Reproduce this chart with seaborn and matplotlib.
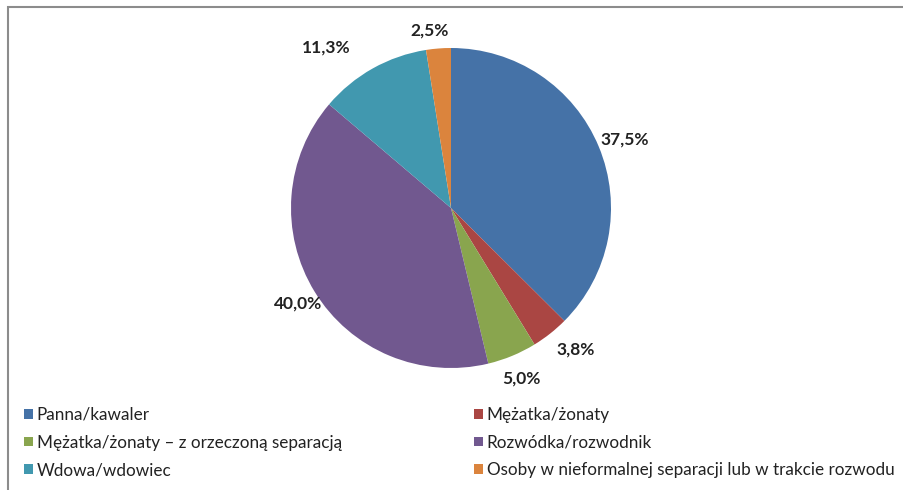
import matplotlib
matplotlib.use("Agg")
import matplotlib.pyplot as plt
from matplotlib.patches import Rectangle, Patch
import numpy as np
import seaborn as sns

sns.set_theme(style="white")
plt.rcParams['font.family'] = ['Lato', 'DejaVu Sans']

# data
categories = ["Panna/kawaler", "Mężatka/żonaty",
              "Mężatka/żonaty – z orzeczoną separacją", "Rozwódka/rozwodnik",
              "Wdowa/wdowiec", "Osoby w nieformalnej separacji lub w trakcie rozwodu"]
values = [37.5, 3.8, 5.0, 40.0, 11.3, 2.5]
colors = ["#4572A7", "#AA4643", "#89A54E", "#71588F", "#4198AF", "#DB843D"]
pct_labels = [f"{v:.1f}%".replace(".", ",") for v in values]
# label placement tweaks (best-fit positions as in the original)
label_dist = [1.17, 1.18, 1.15, 1.13, 1.27, 1.12]
label_turn = [-1.0, 3.0, 0.0, 0.5, 8.6, 2.3]

W, H = 904, 490
fig = plt.figure(figsize=(W / 100, H / 100), dpi=100)

# pie: centre (451,208) px, radius 160 px
cx, cy, r = 451, 208, 160
ax = fig.add_axes([(cx - r) / W, (H - cy - r) / H, 2 * r / W, 2 * r / H])
wedges, texts = ax.pie(values, colors=colors, startangle=90, counterclock=False,
                       labels=pct_labels, labeldistance=1.16,
                       wedgeprops=dict(linewidth=0))
for w, t, d, a in zip(wedges, texts, label_dist, label_turn):
    ang = np.deg2rad((w.theta1 + w.theta2) / 2 + a)
    t.set_position((d * np.cos(ang), d * np.sin(ang)))
    t.set_ha("center")
    t.set_va("center")
    t.set_fontweight("bold")
    t.set_fontsize(12.5)
    t.set_color("#222222")
ax.set_xlim(-1, 1)
ax.set_ylim(-1, 1)
ax.set_aspect("equal")
ax.axis("off")

# chart frame (cut off at right and bottom)
fig.add_artist(Rectangle((8 / W, -0.2), 2, 1.2 - 7 / H, transform=fig.transFigure,
                         fill=False, edgecolor="#8c8c8c", linewidth=1.5))

# legend, two columns filled row by row
handles = [Patch(facecolor=c, edgecolor="none") for c in colors]
for col, x0 in enumerate([24, 474]):
    idx = [col, col + 2, col + 4]
    leg = fig.legend([handles[i] for i in idx], [categories[i] for i in idx],
                     loc="upper left", bbox_to_anchor=(x0 / W, 1 - 407 / H),
                     frameon=False, fontsize=12.3, handlelength=0.5,
                     handleheight=0.5, handletextpad=0.25, labelspacing=0.68,
                     borderaxespad=0, borderpad=0)
    for t in leg.get_texts():
        t.set_color("#222222")

fig.savefig("out.png", dpi=100)
